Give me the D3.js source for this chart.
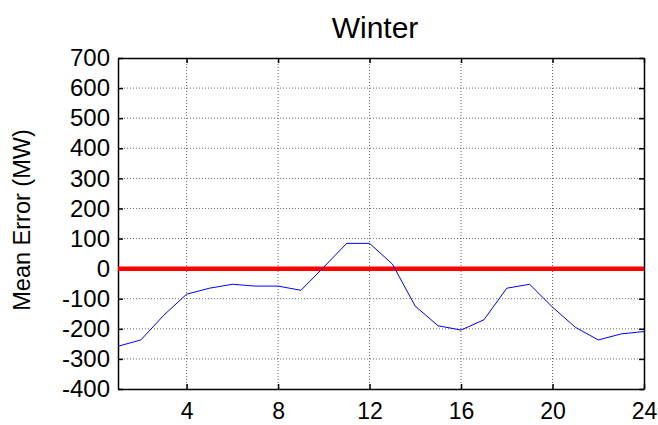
<!DOCTYPE html>
<html>
<head>
<meta charset="utf-8">
<script src="https://cdn.jsdelivr.net/npm/d3@7"></script>
<style>
  body { margin: 0; background: #fff; }
  text { font-family: "Liberation Sans", Arial, sans-serif; fill: #000; }
</style>
</head>
<body>
<div id="chart"></div>
<script>
// hours of the day and mean error (MW)
const hours = [1, 2, 3, 4, 5, 6, 7, 8, 9, 10, 11, 12, 13, 14, 15, 16, 17, 18, 19, 20, 21, 22, 23, 24];
const meanError = [-258, -237, -155, -85, -65, -52, -58, -58, -72, 5, 84, 84, 15, -125, -190, -204, -170, -65, -52, -128, -195, -237, -217, -209];
const xTicks = [4, 8, 12, 16, 20, 24];
const yTicks = [-400, -300, -200, -100, 0, 100, 200, 300, 400, 500, 600, 700];

const W = 658, H = 425;
const margin = { top: 58, right: 14, bottom: 36, left: 118 };
const width = W - margin.left - margin.right;
const height = H - margin.top - margin.bottom;

const svg = d3.select('#chart').append('svg')
  .attr('width', W)
  .attr('height', H);

const g = svg.append('g')
  .attr('transform', `translate(${margin.left},${margin.top})`);

const x = d3.scaleLinear().domain([1, 24]).range([0, width]);
const y = d3.scaleLinear().domain([-400, 700]).range([height, 0]);

// grid
g.append('g').selectAll('line')
  .data(xTicks.slice(0, -1))
  .enter().append('line')
  .attr('x1', d => x(d)).attr('x2', d => x(d))
  .attr('y1', 0).attr('y2', height)
  .attr('stroke', '#666').attr('stroke-width', 1)
  .attr('stroke-dasharray', '1,2');

g.append('g').selectAll('line')
  .data(yTicks.slice(1, -1))
  .enter().append('line')
  .attr('x1', 0).attr('x2', width)
  .attr('y1', d => y(d)).attr('y2', d => y(d))
  .attr('stroke', '#666').attr('stroke-width', 1)
  .attr('stroke-dasharray', '1,2');

// axes
const fmt = d => String(d);
const gX = g.append('g')
  .attr('transform', `translate(0,${height})`)
  .call(d3.axisBottom(x).tickValues(xTicks).tickSizeInner(-5).tickSizeOuter(0).tickPadding(14).tickFormat(fmt));
const gY = g.append('g')
  .call(d3.axisLeft(y).tickValues(yTicks).tickSizeInner(-5).tickSizeOuter(0).tickPadding(8).tickFormat(fmt));
const gT = g.append('g')
  .call(d3.axisTop(x).tickValues(xTicks).tickSizeInner(-5).tickSizeOuter(0).tickFormat(''));
const gR = g.append('g')
  .attr('transform', `translate(${width},0)`)
  .call(d3.axisRight(y).tickValues(yTicks).tickSizeInner(-5).tickSizeOuter(0).tickFormat(''));

[gX, gY, gT, gR].forEach(a => {
  a.select('.domain').attr('stroke', '#000').attr('stroke-width', 1.5);
  a.selectAll('.tick line').attr('stroke', '#000').attr('stroke-width', 1.5);
  a.selectAll('.tick text').style('font-size', '24px').style('font-family', '"Liberation Sans", Arial, sans-serif');
});
gX.selectAll('.tick text').style('font-size', '23px');

// zero line
g.append('line')
  .attr('x1', x(1)).attr('x2', x(24))
  .attr('y1', y(0)).attr('y2', y(0))
  .attr('stroke', '#ff0000').attr('stroke-width', 4.5);

// series
const line = d3.line()
  .x((d, i) => x(hours[i]))
  .y(d => y(d));

g.append('path')
  .datum(meanError)
  .attr('fill', 'none')
  .attr('stroke', '#0000ff')
  .attr('stroke-width', 1)
  .attr('d', line);

// title and label
svg.append('text')
  .attr('x', 375)
  .attr('y', 38)
  .attr('text-anchor', 'middle')
  .style('font-size', '30px')
  .text('Winter');

svg.append('text')
  .attr('transform', 'translate(30,220) rotate(-90)')
  .attr('text-anchor', 'middle')
  .style('font-size', '23.5px')
  .text('Mean Error (MW)');
</script>
</body>
</html>
